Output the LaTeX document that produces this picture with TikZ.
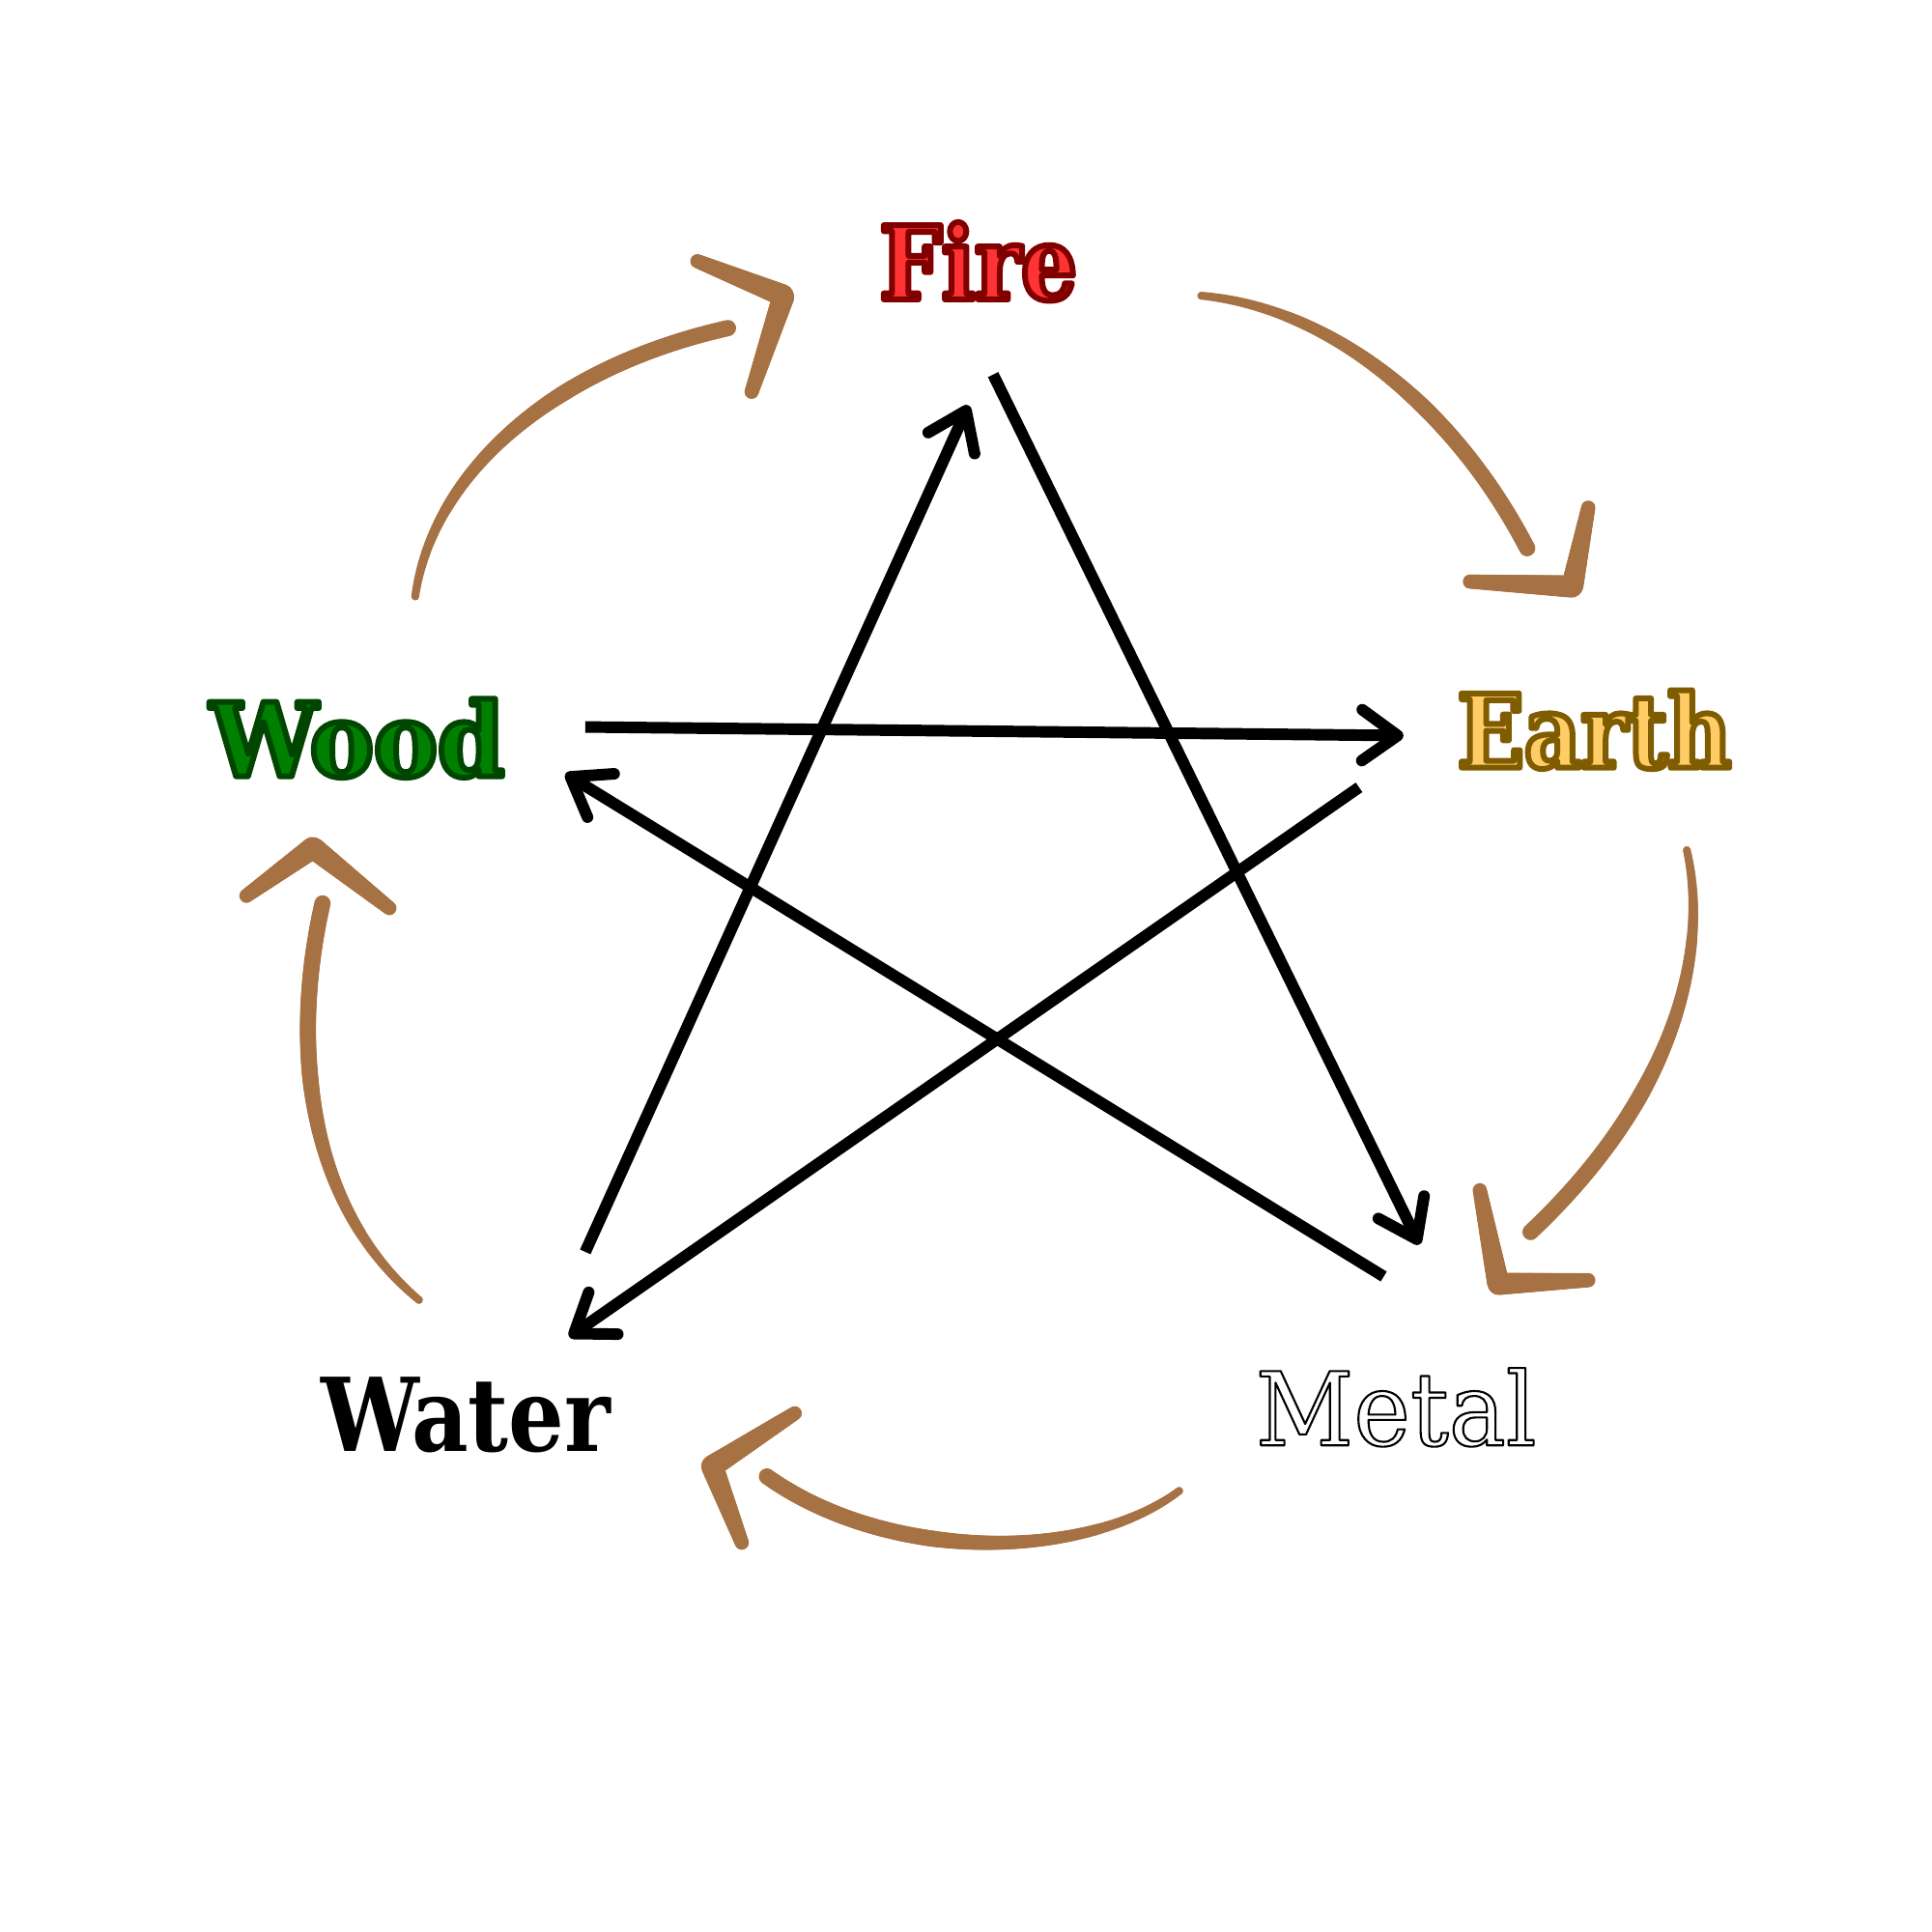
\documentclass[tikz,border=0pt]{standalone}
\usepackage{fontspec}
\setmainfont{DejaVu Serif}[FakeStretch=0.86]
\newfontfamily\widerfont{DejaVu Serif}[FakeStretch=0.94]
\usetikzlibrary{arrows.meta,decorations.markings}
\definecolor{brushc}{RGB}{166,114,68}
\newcommand\outlined[4]{\special{pdf:literal direct q #3 w 1 j #1 RG #2 rg 2 Tr}#4\special{pdf:literal direct Q}}

\begin{document}
\begin{tikzpicture}[x=0.012755cm,y=-0.012755cm,
  elem/.style={inner sep=0pt, anchor=base, font=\fontsize{30}{36}\selectfont\bfseries},
  star/.style={line width=3.4pt, -{Straight Barb[length=10.5pt,width=15pt,round]}},
  taper/.style n args={3}{decorate, decoration={markings,
    mark=between positions 0 and 1 step 0.6pt with {%
      \pgfmathsetmacro\rr{#1+(#2-#1)*min(1,#3*\pgfkeysvalueof{/pgf/decoration/mark info/distance from start}/\pgfdecoratedpathlength)}%
      \fill[brushc] (0,0) circle (\rr pt);}}},
  brush/.style={taper={1.2}{2.4}{1.7}},
  barb/.style={taper={2.1}{3.3}{1}}]
\useasboundingbox (0,0) rectangle (1568,1568);
\path
(794,243) node[elem] (fire) {\outlined{0.5 0 0}{1 0.2 0.2}{1.7}{Fire}}
(290,630) node[elem,font=\fontsize{30}{36}\selectfont\widerfont\bfseries] (wood) {\outlined{0 0.27 0}{0 0.5 0}{1.7}{Wood}}
(1294,623) node[elem] (earth) {\outlined{0.5 0.36 0}{1 0.8 0.4}{1.7}{Earth}}
(378,1178) node[elem] (water) {Water}
(1133,1173) node[elem,font=\fontsize{30}{36}\selectfont\widerfont] (metal) {\outlined{0 0 0}{1 1 1}{0.6}{Metal}}
% ends of the star lines
(475,1016) coordinate (water-up)
(786,329) coordinate (fire-in)
(806,304) coordinate (fire-out)
(1152,1010) coordinate (metal-in)
(1123,1036) coordinate (metal-out)
(459,628) coordinate (wood-in)
(475,590) coordinate (wood-out)
(1139,597) coordinate (earth-in)
(1103,639) coordinate (earth-out)
(462,1085) coordinate (water-in);
% controlling cycle
\draw[star] (water-up)--(fire-in);
\draw[star] (fire-out)--(metal-in);
\draw[star] (metal-out)--(wood-in);
\draw[star] (wood-out)--(earth-in);
\draw[star] (earth-out)--(water-in);
%generating cycle
\path
(337,484) coordinate (t1) (592,266) coordinate (s1) (636,240) coordinate (k1)
(975,240) coordinate (t2) (1240,446) coordinate (s2) (1276,476) coordinate (k2)
(1369,690) coordinate (t3) (1241,1001) coordinate (s3) (1216,1042) coordinate (k3)
(957,1210) coordinate (t4) (622,1198) coordinate (s4) (578,1190) coordinate (k4)
(340,1055) coordinate (t5) (262,732) coordinate (s5) (254,688) coordinate (k5);
\path[brush] (t1) .. controls (350,390) and (440,300) .. (s1);
\path[brush] (t2) .. controls (1080,250) and (1180,330) .. (s2);
\path[brush] (t3) .. controls (1385,760) and (1370,880) .. (s3);
\path[brush] (t4) .. controls (880,1268) and (720,1268) .. (s4);
\path[brush] (t5) .. controls (250,980) and (235,850) .. (s5);
\path[barb] (566,212) -- (k1);
\path[barb] (610,318) -- (k1);
\path[barb] (1289,412) -- (k2);
\path[barb] (1193,472) -- (k2);
\path[barb] (1201,966) -- (k3);
\path[barb] (1289,1039) -- (k3);
\path[barb] (645,1147) -- (k4);
\path[barb] (602,1252) -- (k4);
\path[barb] (200,727) -- (k5);
\path[barb] (316,737) -- (k5);
\end{tikzpicture}
\end{document}
